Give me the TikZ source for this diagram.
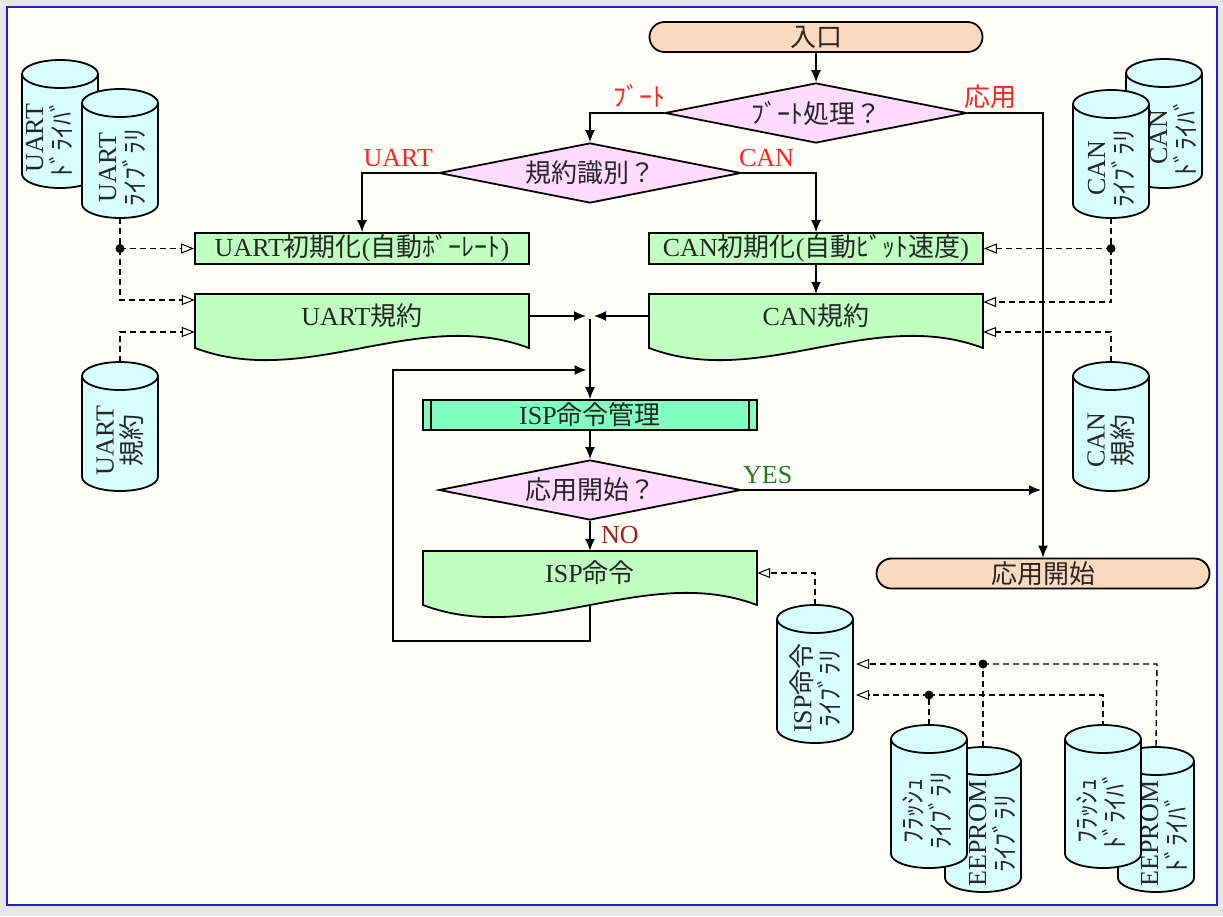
\documentclass[tikz,border=0pt]{standalone}
\usepackage{fontspec}
\setmainfont{Liberation Serif}
\newfontfamily\jpf{Noto Sans CJK JP}
\newcommand\J[1]{{\jpf #1}}
\usetikzlibrary{arrows.meta,shapes.geometric,calc}
\definecolor{bgc}{HTML}{FFFFF7}
\definecolor{outerc}{HTML}{E8E8E8}
\definecolor{framec}{HTML}{2222CC}
\definecolor{peach}{HTML}{FDD9BE}
\definecolor{pinkf}{HTML}{FFDCFF}
\definecolor{greenf}{HTML}{BFFFBF}
\definecolor{mintf}{HTML}{80FFC0}
\definecolor{cyanf}{HTML}{D8FFFF}
\definecolor{txt}{HTML}{262626}
\definecolor{lred}{HTML}{FF2222}
\definecolor{lgreen}{HTML}{1E7B1E}
\definecolor{lbrown}{HTML}{A01E1E}
\pgfdeclarelayer{back}
\pgfdeclarelayer{conn}
\pgfsetlayers{back,conn,main}
\tikzset{
  base/.style={font=\fontsize{26}{28}\selectfont, text=txt, inner sep=0pt},
  boxline/.style={draw=black, line width=1.8pt},
  term/.style={base, boxline, fill=peach, rounded corners=15pt, minimum width=333pt, minimum height=30pt},
  decision/.style={base, diamond, boxline, fill=pinkf, aspect=5, minimum width=302pt, minimum height=60pt},
  proc/.style={base, boxline, fill=greenf, minimum width=334pt, minimum height=31pt},
  predef/.style={base, boxline, fill=mintf, minimum width=334pt, minimum height=30pt},
  docst/.style={boxline, fill=greenf},
  docn/.style={base, minimum width=334pt, minimum height=44pt},
  cylst/.style={boxline, fill=cyanf},
  cyltext/.style={base, rotate=90, align=center},
  lbl/.style={base},
  flow/.style={draw=black, line width=1.3pt, -{Latex[length=12pt,width=10pt]}},
  depl/.style={draw=black, line width=1.4pt, dash pattern=on 6pt off 4pt},
  dep/.style={depl, -{Triangle[open,length=13pt,width=10pt,line width=1pt]}},
}
% name, cx, top, bottom, line 1, line 2, text x offset
\newcommand\mycyl[7]{%
  \path[cylst] (#2-38,#3+14) -- (#2-38,#4-14) arc[start angle=180,end angle=0,x radius=38,y radius=14] -- (#2+38,#3+14) arc[start angle=0,end angle=-180,x radius=38,y radius=14] -- cycle;
  \draw[boxline] (#2-38,#3+14) arc[start angle=180,end angle=0,x radius=38,y radius=14];
  \node[cyltext] (#1) at (#2+#7,{(#3+28+#4)/2}) {#5\\#6};
  \coordinate (#1-t) at (#2,#3);
  \coordinate (#1-b) at (#2,#4);
}
\begin{document}
\begin{tikzpicture}[x=1pt,y=-1pt]
\useasboundingbox (0,0) rectangle (1223,916);
\begin{pgfonlayer}{back}
  \fill[outerc] (0,0) rectangle (1223,916);
  \draw[framec, line width=2.5pt, fill=bgc] (7,7) rectangle (1217,905);
\end{pgfonlayer}

% flow nodes
\node[term] (entry) at (816,37) {\J{入口}};
\node[decision] (boot) at (816,113) {\J{ﾌﾞｰﾄ処理？}};
\node[decision] (proto) at (590,173) {\J{規約識別？}};
\node[proc] (uartinit) at (362,248.5) {UART\J{初期化}(\J{自動ﾎﾞｰﾚｰﾄ})};
\node[proc] (caninit) at (816,248.5) {CAN\J{初期化}(\J{自動ﾋﾞｯﾄ速度})};
\path[docst] (195,294) -- (529,294) -- (529,348) .. controls (417.7,306) and (306.3,390) .. (195,348) -- cycle;
\node[docn] (uartp) at (362,316) {UART\J{規約}};
\path[docst] (649,294) -- (983,294) -- (983,348) .. controls (871.7,306) and (760.3,390) .. (649,348) -- cycle;
\node[docn] (canp) at (816,316) {CAN\J{規約}};
\node[predef] (ispmgr) at (590,415) {ISP\J{命令管理}};
\draw[boxline] ([xshift=9pt]ispmgr.north west) -- ([xshift=9pt]ispmgr.south west);
\draw[boxline] ([xshift=-9pt]ispmgr.north east) -- ([xshift=-9pt]ispmgr.south east);
\node[decision] (appq) at (590,490) {\J{応用開始？}};
\path[docst] (423,551) -- (757,551) -- (757,605) .. controls (645.7,563) and (534.3,647) .. (423,605) -- cycle;
\node[docn] (ispcmd) at (590,573) {ISP\J{命令}};
\node[term] (appstart) at (1043,573.5) {\J{応用開始}};

% cylinders (back ones first)
\mycyl{udrv}{60}{60}{188}{UART}{\J{ﾄﾞﾗｲﾊﾞ}}{-11}
\mycyl{ulib}{120}{89}{218}{UART}{\J{ﾗｲﾌﾞﾗﾘ}}{2}
\mycyl{uproto}{120}{362}{491}{UART}{\J{規約}}{0}
\mycyl{cdrv}{1164}{59}{188}{CAN}{\J{ﾄﾞﾗｲﾊﾞ}}{9}
\mycyl{clib}{1111}{90}{218}{CAN}{\J{ﾗｲﾌﾞﾗﾘ}}{0}
\mycyl{cproto}{1111}{362}{491}{CAN}{\J{規約}}{0}
\mycyl{isplib}{815}{605}{743}{ISP\J{命令}}{\J{ﾗｲﾌﾞﾗﾘ}}{0}
\mycyl{eeplib}{983}{747}{892}{EEPROM}{\J{ﾗｲﾌﾞﾗﾘ}}{9}
\mycyl{flashlib}{929}{725}{868}{\J{ﾌﾗｯｼｭ}}{\J{ﾗｲﾌﾞﾗﾘ}}{-2}
\mycyl{eepdrv}{1156}{747}{892}{EEPROM}{\J{ﾄﾞﾗｲﾊﾞ}}{8}
\mycyl{flashdrv}{1103}{725}{868}{\J{ﾌﾗｯｼｭ}}{\J{ﾄﾞﾗｲﾊﾞ}}{-2}
\coordinate (isplib-e) at (856,674);

% labels
\node[lbl, text=lred, anchor=base east] (lboot) at ([xshift=2pt,yshift=7pt]boot.west) {\J{ﾌﾞｰﾄ}};
\node[lbl, text=lred, anchor=base west] (lapp) at ([xshift=-4pt,yshift=7pt]boot.east) {\J{応用}};
\node[lbl, text=lred, anchor=base east] (luart) at ([xshift=-5pt,yshift=7pt]proto.west) {UART};
\node[lbl, text=lred, anchor=base west] (lcan) at ([xshift=-3pt,yshift=7pt]proto.east) {CAN};
\node[lbl, text=lgreen, anchor=base west] (lyes) at ([xshift=1pt,yshift=7pt]appq.east) {YES};
\node[lbl, text=lbrown, anchor=base west] (lno) at ([xshift=11pt,yshift=-23pt]appq.south) {NO};

% coordinates
\coordinate (join) at (590,316);
\coordinate (lp1) at (590,641);
\coordinate (lp2) at (393,641);
\coordinate (lp3) at (393,370);
\coordinate (lp4) at (590,370);
\coordinate (udot) at (ulib-b |- uartinit.west);
\coordinate (ub1) at (120,300);
\coordinate (ub2) at (120,332);
\coordinate (cdot) at (clib-b |- caninit.east);
\coordinate (cb1) at (1111,302);
\coordinate (cb2) at (1111,332);
\coordinate (ib) at (isplib-t |- ispcmd.east);
\coordinate (edot) at (983,664);
\coordinate (ebend) at (1157,664);
\coordinate (fdot) at (929,695);
\coordinate (fbend) at (1103,695);

\begin{pgfonlayer}{conn}
  \draw[flow] (entry.south) -- (boot.north);
  \draw[flow] (boot.west) -| (proto.north);
  \draw[flow] (boot.east) -| (appstart.north);
  \draw[flow] (proto.west) -| (uartinit.north);
  \draw[flow] (proto.east) -| (caninit.north);
  \draw[flow] (caninit.south) -- (canp.north);
  \draw[flow, shorten >=4pt] (uartp.east) -- (join);
  \draw[flow, shorten >=4pt] (canp.west) -- (join);
  \draw[flow, shorten <=3pt] (join) -- (ispmgr.north);
  \draw[flow, shorten >=3.5pt] (ispcmd.center) -- (lp1) -- (lp2) -- (lp3) -- (lp4);
  \draw[flow] (ispmgr.south) -- (appq.north);
  \draw[flow] (appq.south) -- (ispcmd.north);
  \draw[flow, shorten >=2pt] (appq.east) -- (appq.east -| appstart.north);
  % dependencies
  \draw[dep] (ulib-b) -- (udot) -- (uartinit.west);
  \draw[dep] (udot) -- (ub1) -- (uartp.west |- ub1);
  \draw[dep] (uproto-t) -- (ub2) -- (uartp.west |- ub2);
  \draw[dep] (clib-b) -- (cdot) -- (caninit.east);
  \draw[dep] (cdot) -- (cb1) -- (canp.east |- cb1);
  \draw[dep] (cproto-t) -- (cb2) -- (canp.east |- cb2);
  \draw[dep] (isplib-t) -- (ib) -- (ispcmd.east);
  \draw[dep] (eeplib-t) -- (edot) -- (isplib-e |- edot);
  \draw[depl] (edot) -- (ebend) -- (eepdrv-t);
  \draw[dep] (flashlib-t) -- (fdot) -- (isplib-e |- fdot);
  \draw[depl] (fdot) -- (fbend) -- (flashdrv-t);
\end{pgfonlayer}
\fill (udot) circle (4.5pt);
\fill (cdot) circle (4.5pt);
\fill (edot) circle (4.5pt);
\fill (fdot) circle (4.5pt);
\end{tikzpicture}
\end{document}
